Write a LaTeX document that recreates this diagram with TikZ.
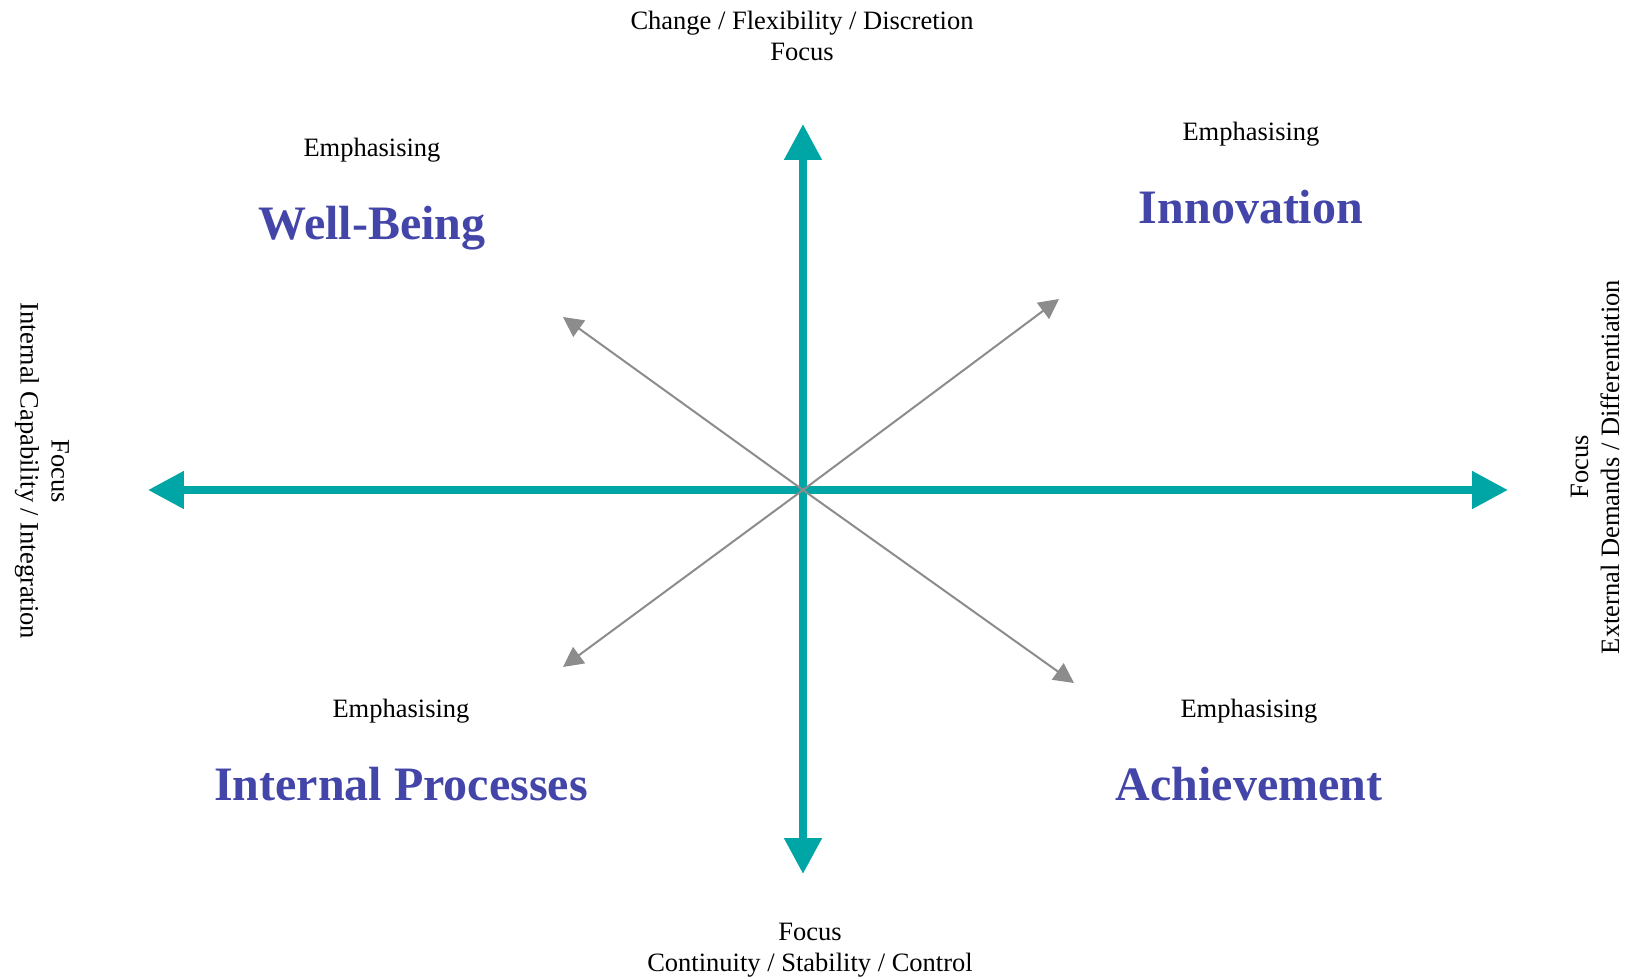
\documentclass[tikz,border=0pt]{standalone}
\usepackage{fontspec}
\setmainfont{Liberation Serif}
\usetikzlibrary{arrows.meta}
\usetikzlibrary{positioning}

\definecolor{axisteal}{HTML}{00A6A6}
\definecolor{valueblue}{HTML}{4346A8}
\definecolor{pointergray}{HTML}{8C8C8C}

\begin{document}
\begin{tikzpicture}[x=1pt,y=1pt]
  \tikzset{axis/.style={line width=8pt, draw=axisteal,
      {Triangle[length=36pt,width=36pt]}-{Triangle[length=36pt,width=36pt]}}}
  \tikzset{pointer/.style={line width=2pt, draw=pointergray,
      -{Triangle[length=20pt,width=20pt]}}}
  \tikzset{focus/.style={align=center, inner sep=0pt,
      font=\fontsize{26.5}{31}\selectfont}}
  \tikzset{emphasis/.style={inner sep=0pt, text height=18.5pt, text depth=6.6pt,
      font=\fontsize{26.5}{31}\selectfont}}
  \tikzset{quadrant/.style={inner sep=0pt, text height=33.6pt, text depth=12pt,
      text=valueblue, font=\fontsize{48}{56}\selectfont\bfseries}}
  \useasboundingbox (-803,-490) rectangle (831,490);
  % axis ends and pointer tips
  \coordinate (origin) at (0,0);
  \coordinate (axisleft) at (-655,0);
  \coordinate (axisright) at (705,0);
  \coordinate (axistop) at (0,366);
  \coordinate (axisbottom) at (0,-384);
  \coordinate (tipnw) at (-240,173);
  \coordinate (tipne) at (256,191);
  \coordinate (tipsw) at (-240,-177);
  \coordinate (tipse) at (271,-193);
  \draw[axis] (axisleft) -- (axisright);
  \draw[axis] (axistop) -- (axisbottom);
  \draw[pointer] (origin) -- (tipnw);
  \draw[pointer] (origin) -- (tipne);
  \draw[pointer] (origin) -- (tipsw);
  \draw[pointer] (origin) -- (tipse);
  % axis captions
  \node[focus] (flexibility) at (-1,454) {Change / Flexibility / Discretion\\Focus};
  \node[focus] (stability) at (7,-460) {Focus\\Continuity / Stability / Control};
  \node[focus, rotate=-90] (internal) at (-761,19) {Focus\\Internal Capability / Integration};
  \node[focus, rotate=90] (external) at (792,23) {Focus\\External Demands / Differentiation};
  % quadrants
  \node[emphasis] (emphnw) at (-431,339) {Emphasising};
  \node[quadrant] (wellbeing) [below=42pt of emphnw] {Well-Being};
  \node[emphasis] (emphne) at (448,355) {Emphasising};
  \node[quadrant] (innovation) [below=42pt of emphne] {Innovation};
  \node[emphasis] (emphsw) at (-402,-222) {Emphasising};
  \node[quadrant] (processes) [below=42pt of emphsw] {Internal Processes};
  \node[emphasis] (emphse) at (446,-222) {Emphasising};
  \node[quadrant] (achievement) [below=42pt of emphse] {Achievement};
\end{tikzpicture}
\end{document}
